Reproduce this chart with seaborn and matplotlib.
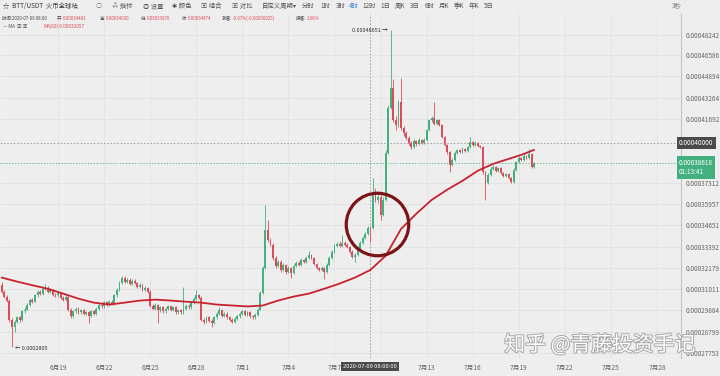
import numpy as np
import pandas as pd
import matplotlib
matplotlib.use('Agg')
import matplotlib.pyplot as plt
import matplotlib.dates as mdates
import matplotlib.transforms as mtransforms
import matplotlib.patheffects as pe
from matplotlib.ticker import NullLocator
from datetime import timedelta
import seaborn as sns

# --- Data: BTT/USDT 4H candles (prices in units of 1e-4 USDT) ---
SCALE = 1e-4
first_open = 3.125

close = [
    3.088, 3.061, 3.040, 2.941, 2.901, 2.931, 2.952, 2.941, 2.983, 2.993,
    3.019, 3.045, 3.035, 3.067, 3.088, 3.077, 3.103, 3.109, 3.088, 3.098,
    3.072, 3.067, 3.082, 3.056, 3.045, 3.061, 2.993, 2.957, 2.983, 2.998,
    2.978, 2.988, 2.972, 2.978, 2.962, 2.983, 2.972, 2.998, 3.019, 3.009,
    3.030, 3.019, 3.035, 3.024, 3.067, 3.098, 3.136, 3.164, 3.142, 3.153,
    3.131, 3.147, 3.136, 3.114, 3.125, 3.098, 3.109, 3.088, 3.014, 2.998,
    3.019, 2.988, 3.004, 2.983, 2.998, 3.009, 2.993, 3.004, 2.978, 2.988,
    2.978, 2.998, 3.014, 3.004, 3.030, 3.050, 3.067, 3.056, 2.941, 2.931,
    2.952, 2.936, 2.926, 2.952, 2.972, 2.988, 2.962, 2.972, 2.952, 2.941,
    2.931, 2.946, 2.957, 2.972, 2.983, 2.967, 2.978, 2.957, 2.952, 2.967,
    2.993, 3.082, 3.219, 3.438, 3.379, 3.350, 3.275, 3.230, 3.253, 3.208,
    3.236, 3.197, 3.219, 3.191, 3.230, 3.247, 3.236, 3.264, 3.253, 3.275,
    3.292, 3.275, 3.242, 3.219, 3.208, 3.219, 3.197, 3.236, 3.275, 3.310,
    3.344, 3.356, 3.344, 3.362, 3.350, 3.338, 3.310, 3.281, 3.292, 3.333,
    3.362, 3.391, 3.415, 3.450, 3.447, 3.654, 3.622, 3.641, 3.529, 3.622,
    3.930, 4.250, 4.399, 4.162, 4.126, 4.294, 4.104, 4.069, 4.034, 3.999,
    3.971, 4.013, 3.992, 4.020, 3.999, 4.020, 4.090, 4.162, 4.177, 4.133,
    4.162, 4.126, 4.041, 3.985, 3.937, 3.849, 3.883, 3.930, 3.951, 3.937,
    3.958, 3.944, 3.971, 4.006, 3.985, 3.999, 3.978, 3.971, 3.803, 3.731,
    3.783, 3.823, 3.836, 3.809, 3.829, 3.796, 3.776, 3.790, 3.763, 3.737,
    3.816, 3.869, 3.896, 3.883, 3.910, 3.896, 3.923, 3.836, 3.862,
]

high = [
    3.140, 3.095, 3.070, 3.046, 2.950, 2.940, 2.960, 2.962, 2.990, 3.004,
    3.026, 3.052, 3.056, 3.075, 3.098, 3.096, 3.112, 3.131, 3.118, 3.106,
    3.104, 3.082, 3.090, 3.088, 3.064, 3.070, 3.066, 3.000, 2.990, 3.006,
    3.004, 2.996, 2.995, 2.986, 2.984, 2.990, 2.990, 3.005, 3.028, 3.026,
    3.038, 3.036, 3.042, 3.042, 3.074, 3.106, 3.145, 3.175, 3.172, 3.162,
    3.160, 3.156, 3.154, 3.142, 3.134, 3.130, 3.118, 3.114, 3.094, 3.020,
    3.026, 3.024, 3.012, 3.010, 3.006, 3.016, 3.014, 3.012, 3.010, 2.996,
    2.994, 3.114, 3.022, 3.020, 3.038, 3.058, 3.098, 3.074, 3.062, 2.948,
    2.960, 2.958, 2.944, 2.960, 2.980, 3.004, 2.994, 2.980, 2.978, 2.958,
    2.948, 2.954, 2.964, 2.980, 2.990, 2.990, 2.986, 2.984, 2.964, 2.975,
    3.000, 3.090, 3.230, 3.591, 3.499, 3.392, 3.358, 3.284, 3.262, 3.260,
    3.245, 3.242, 3.228, 3.225, 3.238, 3.256, 3.254, 3.272, 3.270, 3.284,
    3.315, 3.298, 3.281, 3.248, 3.225, 3.228, 3.225, 3.244, 3.284, 3.318,
    3.352, 3.366, 3.370, 3.409, 3.370, 3.358, 3.344, 3.318, 3.300, 3.340,
    3.370, 3.400, 3.424, 3.458, 3.460, 3.763, 3.700, 3.680, 3.650, 3.640,
    3.950, 4.270, 4.8651, 4.470, 4.190, 4.310, 4.480, 4.115, 4.080, 4.045,
    4.010, 4.025, 4.022, 4.032, 4.028, 4.030, 4.100, 4.172, 4.190, 4.294,
    4.172, 4.170, 4.135, 4.050, 3.992, 3.945, 3.895, 3.940, 3.960, 3.958,
    3.968, 3.965, 3.980, 4.041, 4.015, 4.010, 4.006, 3.986, 3.978, 3.810,
    3.792, 3.832, 3.846, 3.842, 3.838, 3.836, 3.802, 3.798, 3.796, 3.770,
    3.825, 3.878, 3.906, 3.904, 3.920, 3.918, 3.958, 3.930, 3.870,
]

low = [
    3.080, 3.052, 3.030, 2.930, 2.805, 2.880, 2.922, 2.930, 2.936, 2.975,
    2.988, 3.012, 3.026, 3.030, 3.060, 3.068, 3.070, 3.096, 3.080, 3.080,
    3.064, 3.058, 3.060, 3.048, 3.036, 3.040, 2.985, 2.948, 2.950, 2.976,
    2.970, 2.970, 2.965, 2.964, 2.926, 2.955, 2.964, 2.966, 2.992, 3.000,
    3.002, 3.010, 3.012, 3.016, 3.018, 3.060, 3.090, 3.128, 3.134, 3.134,
    3.122, 3.124, 3.128, 3.106, 3.106, 3.090, 3.090, 3.080, 3.004, 2.988,
    2.990, 2.926, 2.980, 2.975, 2.976, 2.992, 2.985, 2.986, 2.970, 2.970,
    2.970, 2.972, 2.992, 2.996, 2.998, 3.024, 3.044, 3.048, 2.934, 2.920,
    2.924, 2.928, 2.901, 2.920, 2.946, 2.966, 2.955, 2.955, 2.945, 2.934,
    2.924, 2.924, 2.940, 2.950, 2.966, 2.960, 2.960, 2.950, 2.944, 2.946,
    2.960, 2.988, 3.076, 3.210, 3.368, 3.340, 3.264, 3.219, 3.222, 3.197,
    3.200, 3.186, 3.190, 3.164, 3.185, 3.222, 3.228, 3.230, 3.245, 3.247,
    3.268, 3.268, 3.234, 3.212, 3.200, 3.200, 3.158, 3.190, 3.230, 3.270,
    3.304, 3.336, 3.336, 3.338, 3.342, 3.330, 3.302, 3.272, 3.253, 3.286,
    3.326, 3.356, 3.385, 3.408, 3.3676, 3.440, 3.610, 3.600, 3.500, 3.520,
    3.615, 3.920, 4.240, 4.150, 4.090, 4.110, 4.090, 4.050, 4.020, 3.985,
    3.958, 3.965, 3.980, 3.985, 3.990, 3.990, 4.012, 4.082, 4.150, 4.125,
    4.125, 4.115, 4.030, 3.975, 3.925, 3.803, 3.840, 3.875, 3.922, 3.928,
    3.930, 3.935, 3.938, 3.965, 3.976, 3.978, 3.970, 3.962, 3.790, 3.622,
    3.722, 3.776, 3.816, 3.800, 3.802, 3.788, 3.768, 3.768, 3.755, 3.728,
    3.730, 3.810, 3.862, 3.875, 3.876, 3.888, 3.890, 3.828, 3.830,
]

# MA(60) read once per day (08:00) plus the last candle
ma60 = [3.164, 3.142, 3.122, 3.103, 3.077, 3.050, 3.029, 3.019, 3.029, 3.040,
        3.045, 3.040, 3.034, 3.029, 3.019, 3.014, 3.009, 3.014, 3.040, 3.061,
        3.077, 3.103, 3.131, 3.164, 3.206, 3.286, 3.443, 3.536, 3.622, 3.686,
        3.744, 3.810, 3.856, 3.889, 3.923, 3.951]

y_tick_values = [4.8242, 4.6586, 4.4894, 4.3264, 4.1692, 3.7312, 3.5957, 3.4651,
                 3.3392, 3.2179, 3.1011, 2.9884, 2.8799, 2.7753]
alert_price = 4.0000
last_price = 3.8618
x_tick_dates = pd.date_range('2020-06-19', '2020-07-28', freq='3D')
crosshair_time = pd.Timestamp('2020-07-09 08:00')
circle_time = pd.Timestamp('2020-07-09 18:30')
circle_price = 3.474

GREEN = '#45b07f'
RED = '#dc4d5a'
BG = '#eeeeee'

times = pd.date_range('2020-06-15 08:00', periods=len(close), freq='4h')
ma_times = pd.date_range('2020-06-15 08:00', '2020-07-19 08:00', freq='1D').append(
    pd.DatetimeIndex(['2020-07-20 00:00']))

c = np.array(close) * SCALE
h = np.array(high) * SCALE
l = np.array(low) * SCALE
o = np.r_[first_open, close[:-1]] * SCALE
up = c >= o

# --- Plot ---
sns.set_theme(style='white')
plt.rcParams['font.family'] = ['Noto Sans CJK SC', 'DejaVu Sans']

fig = plt.figure(figsize=(7.2, 3.76), dpi=100, facecolor=BG)
ax = fig.add_axes([0, 18 / 376, 681 / 720, 344 / 376], facecolor=BG)
ax.set_yscale('log')

t = np.array(times.to_pydatetime())
for mask, col in [(up, GREEN), (~up, RED)]:
    ax.vlines(t[mask], l[mask], h[mask], color=col, lw=0.6, zorder=3)
    ax.bar(t[mask], np.maximum(np.abs(c - o)[mask], 0.004 * SCALE),
           bottom=np.minimum(o, c)[mask], width=timedelta(hours=2.9),
           color=col, lw=0, zorder=4)

sns.lineplot(x=ma_times, y=np.array(ma60) * SCALE, ax=ax, color='#c8222d',
             linewidth=1.3, zorder=5)

# circle highlight
ax.plot([circle_time], [circle_price * SCALE], marker='o', ms=45, mfc='none',
        mec='#7a1418', mew=2.3, zorder=6)

# crosshair and price lines
ax.axvline(crosshair_time, color='#9a9a9a', lw=0.6, ls=(0, (2, 2)), zorder=2)
ax.axhline(alert_price * SCALE, color='#9a9a9a', lw=0.6, ls=(0, (2, 2)), zorder=2)
ax.axhline(last_price * SCALE, color=GREEN, lw=0.6, ls=(0, (1.5, 2)), zorder=2)

ax.set_xlim(pd.Timestamp('2020-06-15 05:20'), pd.Timestamp('2020-07-29 13:30'))
ax.set_ylim(2.751e-4, 5.004e-4)

ax.set_xticks(x_tick_dates)
ax.set_xticklabels(['' if d == pd.Timestamp('2020-07-10') else f'{d.month}月{d.day}'
                    for d in x_tick_dates])
ax.yaxis.tick_right()
ax.set_yticks([v * SCALE for v in y_tick_values])
ax.set_yticklabels([f'{v * SCALE:.8f}' for v in y_tick_values])
ax.yaxis.set_minor_locator(NullLocator())
ax.tick_params(axis='x', length=0, pad=4, labelsize=4.8, labelcolor='#666666')
ax.tick_params(axis='y', length=0, pad=3, labelsize=4.6, labelcolor='#666666')
ax.grid(True, color='#e2e2e2', lw=0.6, zorder=0)
ax.set_xlabel('')
ax.set_ylabel('')
for side in ['top', 'left', 'bottom']:
    ax.spines[side].set_visible(False)
ax.spines['right'].set_color('#c4c4c4')
ax.spines['right'].set_linewidth(0.8)

# boxed labels on the price axis
yblend = mtransforms.blended_transform_factory(ax.transAxes, ax.transData)
ax.annotate('0.00040000', xy=(0.997, alert_price * SCALE), xycoords=yblend,
            va='center', ha='left', fontsize=4.6, color='white',
            bbox=dict(boxstyle='square,pad=0.35', fc='#4a4a4a', ec='none'),
            annotation_clip=False, zorder=10)
ax.annotate(f'{last_price * SCALE:.8f}\n01:13:41', xy=(0.997, last_price * SCALE),
            xycoords=yblend, xytext=(0, -3.2), textcoords='offset points',
            va='center', ha='left', fontsize=4.6, color='white', linespacing=1.3,
            bbox=dict(boxstyle='square,pad=0.35', fc=GREEN, ec='none'),
            annotation_clip=False, zorder=10)

ax.annotate('2020-07-09 08:00:00', xy=(mdates.date2num(crosshair_time), 0.0),
            xycoords=ax.get_xaxis_transform(),
            xytext=(0, -6), textcoords='offset points', ha='center', va='center',
            fontsize=4.2, color='white',
            bbox=dict(boxstyle='square,pad=0.35', fc='#4a4a4a', ec='none'),
            annotation_clip=False, zorder=10)

# extreme markers
i_hi = int(np.argmax(h))
i_lo = int(np.argmin(l))
ax.annotate(f'{h[i_hi]:.8f} →', xy=(t[i_hi], h[i_hi]), xytext=(-2, 0),
            textcoords='offset points', ha='right', va='center', fontsize=4.0,
            color='#333333', zorder=10)
ax.annotate(f'← {l[i_lo]:.7f}', xy=(t[i_lo], l[i_lo]), xytext=(2, -1),
            textcoords='offset points', ha='left', va='center', fontsize=4.0,
            color='#333333', zorder=10)


def px(x, y):
    return x / 720, 1 - y / 376


# toolbar
toolbar = [(3, '☆  BTT/USDT  火币全球站', '#333333'), (96, '○', '#777777'),
           (112, '⁂ 指标', '#555555'), (143, '◎ 设置', '#555555'),
           (172, '✱ 颜色', '#555555'), (201, '▣ 组合', '#555555'),
           (232, '▣ 对比', '#555555'), (262, '自定义周期▾', '#555555'),
           (302, '分时', '#555555'), (320, '1时', '#555555'), (336, '3时', '#555555'),
           (349, '4时', '#3d7fd9'), (362, '12时', '#555555'), (380, '1日', '#555555'),
           (395, '周K', '#555555'), (410, '3日', '#555555'), (425, '6时', '#555555'),
           (439, '月K', '#555555'), (454, '季K', '#555555'), (469, '年K', '#555555'),
           (484, '5日', '#555555'), (672, '3秒', '#777777')]
for x, s, col in toolbar:
    fig.text(*px(x, 6), s, fontsize=4.6, color=col, va='center', ha='left')

# info line for the hovered candle
info = [(2, '时间:2020-07-09 08:00', '#444444'),
        (57, '开:', '#444444'), (63, '0.00034481', RED),
        (100, '高:', '#444444'), (106, '0.00034600', RED),
        (141, '低:', '#444444'), (147, '0.00033676', RED),
        (182, '收:', '#444444'), (188, '0.00034474', RED),
        (222, '涨幅:', '#444444'), (233, '-0.07%(-0.00000025)', RED),
        (296, '振幅:', '#444444'), (307, '2.68%', RED)]
for x, s, col in info:
    fig.text(*px(x, 18), s, fontsize=3.2, color=col, va='center', ha='left')
fig.text(*px(3, 26), '— MA  ▣ ▣', fontsize=3.4, color='#555555', va='center', ha='left')
fig.text(*px(43, 26), 'MA(60):0.00032057', fontsize=3.4, color=RED, va='center', ha='left')

# watermark
fig.text(*px(600, 345), '知乎 @青藤投资手记', fontsize=15, color='white',
         ha='center', va='center', zorder=20,
         path_effects=[pe.withStroke(linewidth=1.4, foreground='#a8a8a8')])

fig.savefig('out.png', dpi=100, facecolor=BG)
